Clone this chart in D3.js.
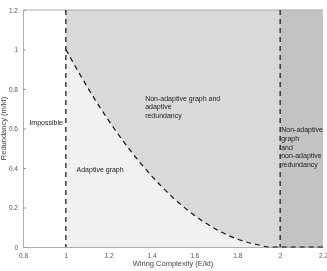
<!DOCTYPE html>
<html lang="en">
<head>
<meta charset="UTF-8">
<title>Wiring complexity</title>
<style>
  body{margin:0;background:#fff;}
  svg{display:block;font-family:"Liberation Sans",Arial,sans-serif;will-change:transform;}
</style>
<script src="https://cdn.jsdelivr.net/npm/d3@7"></script>
</head>
<body>
<div id="draw"></div>
<script>
var xTicks = [0.8, 1, 1.2, 1.4, 1.6, 1.8, 2, 2.2];
var yTicks = [0, 0.2, 0.4, 0.6, 0.8, 1, 1.2];
// boundary curve between adaptive and non-adaptive graph
var curveX = [1, 1.1, 1.2, 1.3, 1.4, 1.5, 1.6, 1.7, 1.8, 1.9, 1.95, 2, 2.2];
var curveY = [1, 0.81, 0.64, 0.49, 0.36, 0.25, 0.16, 0.09, 0.04, 0.01, 0, 0, 0];
var bounds = [1, 2];

var w = 327, h = 271;
var m = {left: 23, right: 4, top: 10, bottom: 24};

var svg = d3.select("#draw").append("svg")
    .attr("width", w).attr("height", h);

var x = d3.scaleLinear().domain([0.8, 2.2]).range([m.left, w - m.right]);
var y = d3.scaleLinear().domain([0, 1.2]).range([h - m.bottom, m.top]);

var pts = curveX.map(function(v, i){ return [v, curveY[i]]; });

// regions
svg.append("rect")
    .attr("x", x(1)).attr("y", y(1.2))
    .attr("width", x(2) - x(1)).attr("height", y(0) - y(1.2))
    .attr("fill", "#d9d9d9");
svg.append("rect")
    .attr("x", x(2)).attr("y", y(1.2))
    .attr("width", x(2.2) - x(2)).attr("height", y(0) - y(1.2))
    .attr("fill", "#c3c3c3");
var below = pts.filter(function(p){ return p[0] <= 2; });
svg.append("path")
    .attr("d", d3.area().x(function(p){return x(p[0]);}).y0(y(0)).y1(function(p){return y(p[1]);})(below))
    .attr("fill", "#f1f1f1");

// axes
var gx = svg.append("g").attr("transform", "translate(0," + y(0) + ")")
    .call(d3.axisBottom(x).tickValues(xTicks).tickSize(0).tickPadding(6).tickFormat(d3.format("")));
var gy = svg.append("g").attr("transform", "translate(" + x(0.8) + ",0)")
    .call(d3.axisLeft(y).tickValues(yTicks).tickSize(-3).tickPadding(5).tickFormat(d3.format("")));
[gx, gy].forEach(function(g){
    g.selectAll("text").attr("font-size", 6.5).attr("fill", "#555").attr("font-family", "Liberation Sans, Arial, sans-serif");
    g.select(".domain").attr("stroke", "#999").attr("stroke-width", 0.8);
    g.selectAll(".tick line").attr("stroke", "#999");
});
svg.append("line")
    .attr("x1", x(0.8)).attr("x2", x(2.2)).attr("y1", y(1.2)).attr("y2", y(1.2))
    .attr("stroke", "#999").attr("stroke-width", 0.8);

// boundaries
bounds.forEach(function(b){
    svg.append("line")
        .attr("x1", x(b)).attr("x2", x(b)).attr("y1", y(1.2)).attr("y2", y(0))
        .attr("stroke", "#111").attr("stroke-width", 1.2).attr("stroke-dasharray", "5,4");
});
svg.append("path")
    .attr("d", d3.line().x(function(p){return x(p[0]);}).y(function(p){return y(p[1]);}).curve(d3.curveMonotoneX)(pts))
    .attr("fill", "none").attr("stroke", "#111").attr("stroke-width", 1.2).attr("stroke-dasharray", "5,4");

// labels
var labels = [
    {x: 0.83, y: 0.62, lines: ["Impossible"]},
    {x: 1.05, y: 0.38, lines: ["Adaptive graph"]},
    {x: 1.37, y: 0.74, lines: ["Non-adaptive graph and", "adaptive", "redundancy"]},
    {x: 2.005, y: 0.58, lines: ["Non-adaptive", "graph", "and", "non-adaptive", "redundancy"]}
];
labels.forEach(function(l){
    var t = svg.append("text").attr("x", x(l.x)).attr("y", y(l.y))
        .attr("font-size", 7).attr("fill", "#222");
    l.lines.forEach(function(s, i){
        t.append("tspan").attr("x", x(l.x)).attr("dy", i ? 8.6 : 0).text(s);
    });
});

svg.append("text").attr("x", (x(0.8) + x(2.2)) / 2).attr("y", h - 5)
    .attr("text-anchor", "middle").attr("font-size", 7.5).attr("fill", "#444")
    .text("Wiring Complexity (E/kt)");
svg.append("text").attr("transform", "translate(6," + y(0.6) + ") rotate(-90)")
    .attr("text-anchor", "middle").attr("font-size", 7.5).attr("fill", "#444")
    .text("Redundancy (m/kt)");
</script>
</body>
</html>
